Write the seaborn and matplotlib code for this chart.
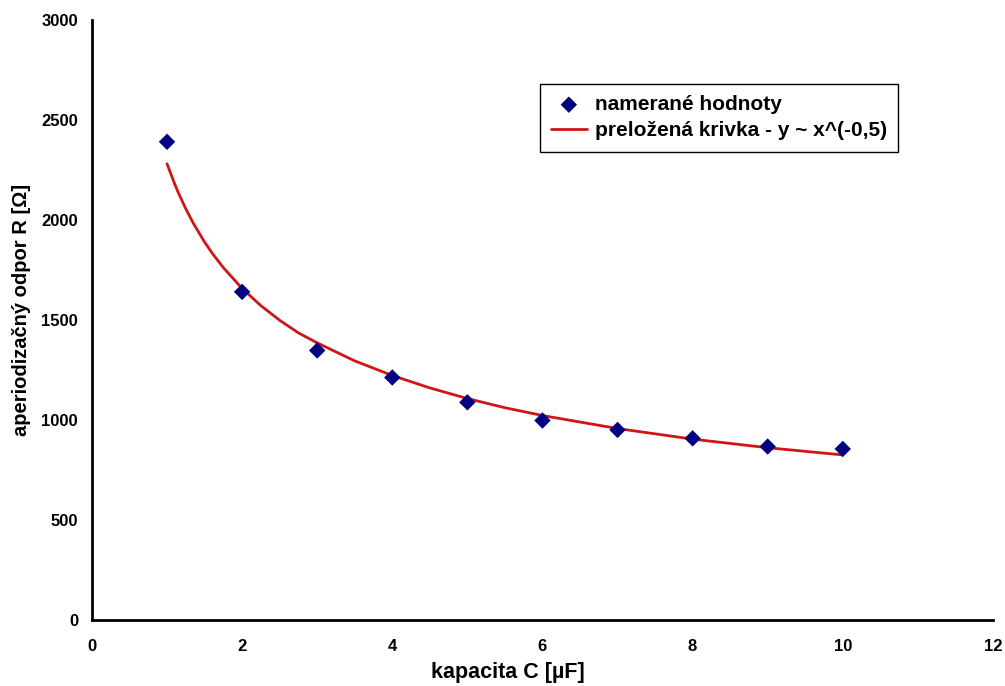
import pandas as pd
import seaborn as sns
import matplotlib.pyplot as plt

capacity = [1, 2, 3, 4, 5, 6, 7, 8, 9, 10]
resistance = [2390, 1640, 1347, 1212, 1088, 997, 950, 908, 867, 855]

# fitted curve at several x positions
fit_x = [1, 1.1, 1.15, 1.25, 1.35, 1.5, 1.6, 1.75, 2, 2.25, 2.5, 2.75, 3, 3.5,
         4, 4.5, 5, 5.5, 6, 7, 8, 9, 10]
fit_y = [2280, 2181, 2136, 2055, 1983, 1889, 1834, 1761, 1657, 1571, 1498, 1435,
         1385, 1295, 1222, 1160, 1107, 1061, 1022, 957, 904, 861, 825]

measured = pd.DataFrame({'C': capacity, 'R': resistance})
fitted = pd.DataFrame({'C': fit_x, 'R': fit_y})

sns.set_style('white')
plt.rcParams['font.family'] = ['Liberation Sans', 'DejaVu Sans']
# plain black text like the Excel original
plt.rcParams['text.color'] = 'black'
plt.rcParams['axes.labelcolor'] = 'black'
plt.rcParams['xtick.color'] = 'black'
plt.rcParams['ytick.color'] = 'black'

fig = plt.figure(figsize=(10.05, 6.86), dpi=100)
ax = fig.add_axes([0.0915, 0.0962, 0.8965, 0.875])

sns.lineplot(data=fitted, x='C', y='R', color='#d01515', linewidth=2,
             ax=ax, label='preložená krivka - y ~ x^(-0,5)')
sns.scatterplot(data=measured, x='C', y='R', marker='D', color='#000080',
                s=70, edgecolor='none', ax=ax, label='namerané hodnoty', zorder=3)

ax.set_xlim(0, 12)
ax.set_ylim(0, 3000)
ax.set_xticks(range(0, 13, 2))
ax.set_yticks(range(0, 3001, 500))
ax.set_xlabel('kapacita C [µF]', fontsize=15.5, fontweight='bold')
ax.set_ylabel('aperiodizačný odpor R [Ω]', fontsize=14.5, fontweight='bold')
ax.xaxis.set_label_coords(0.462, -0.070)
ax.yaxis.set_label_coords(-0.068, 0.517)

for side in ['top', 'right']:
    ax.spines[side].set_visible(False)
for side in ['left', 'bottom']:
    ax.spines[side].set_color('black')
    ax.spines[side].set_linewidth(2)
ax.tick_params(axis='both', direction='out', length=5, width=1.5, color='black',
               labelcolor='black', labelsize=12, pad=5)
ax.tick_params(axis='x', pad=9)
for lbl in ax.get_xticklabels() + ax.get_yticklabels():
    lbl.set_fontweight('bold')

handles, labels = ax.get_legend_handles_labels()
leg = ax.legend(handles[::-1], labels[::-1], loc='upper left',
                bbox_to_anchor=(0.537, 0.878), bbox_transform=fig.transFigure,
                borderaxespad=0, fancybox=False, framealpha=1, edgecolor='black',
                prop={'weight': 'bold', 'size': 15}, handlelength=1.7,
                handletextpad=0.4, borderpad=0.55, labelspacing=0.35)
leg.get_frame().set_linewidth(1)
for txt in leg.get_texts():
    txt.set_color('black')

fig.savefig('out.png', dpi=100)
